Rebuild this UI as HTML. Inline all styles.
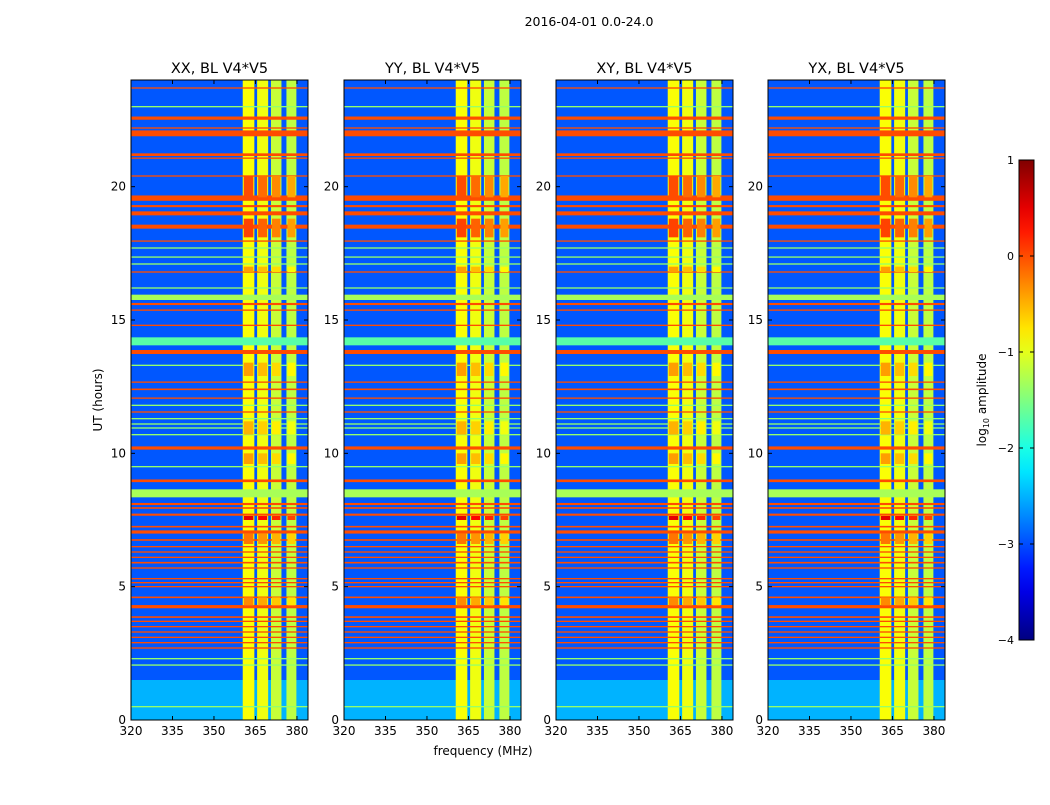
<!DOCTYPE html>
<html><head><meta charset="utf-8"><style>
body{margin:0;background:#fff;font-family:"Liberation Sans",sans-serif}
svg text{font-family:"DejaVu Sans","Liberation Sans",sans-serif;fill:#000}
</style></head><body>
<svg id="fig" width="1050" height="800" xmlns="http://www.w3.org/2000/svg">
<rect width="1050" height="800" fill="#fff"/>
<text x="589" y="26" font-size="12.5" text-anchor="middle">2016-04-01 0.0-24.0</text>
<text transform="translate(102,400) rotate(-90)" font-size="12" text-anchor="middle">UT (hours)</text>
<text x="483" y="755" font-size="12" text-anchor="middle">frequency (MHz)</text>
<text transform="translate(986,400) rotate(-90)" font-size="12" text-anchor="middle">log<tspan font-size="8" dy="3">10</tspan><tspan dy="-3"> amplitude</tspan></text>
<g id="panels"></g>
<g id="cbar"></g>
</svg>
<script>
const panelTitles=["XX, BL V4*V5","YY, BL V4*V5","XY, BL V4*V5","YX, BL V4*V5"];
const xTicks=[320,335,350,365,380];
const yTicks=[0,5,10,15,20];
const cbTicks=[1,0,-1,-2,-3,-4];
const bgLevel=-2.95;
const lowBandHours=[0,1.5];
const lowBandLevel=-2.5;
// band columns (MHz)
const bandStart=[360.4,365.6,370.6,376.2];
const bandEnd=[364.6,369.6,374.4,379.8];
const bandLevel=[-0.9,-0.95,-1.15,-1.2];
// RFI time rows
const rfiHour=[23.7,23.0,22.57,22.2,22.0,21.2,21.07,20.4,19.57,19.27,19.0,18.5,17.96,17.7,17.36,17.1,16.8,16.2,15.85,15.6,15.37,14.8,14.2,13.8,13.3,12.67,12.4,12.07,11.8,11.55,11.3,11.1,10.95,10.7,10.2,9.5,8.97,8.5,8.1,7.95,7.7,7.25,7.05,6.75,6.5,6.3,6.1,5.9,5.7,5.3,5.15,5.0,4.6,4.25,3.86,3.7,3.5,3.3,3.1,2.9,2.7,2.3,2.06,0.5];
const rfiWidth=[0.05,0.05,0.12,0.05,0.22,0.1,0.05,0.05,0.2,0.08,0.15,0.15,0.05,0.05,0.05,0.05,0.05,0.05,0.2,0.08,0.05,0.05,0.3,0.15,0.05,0.05,0.06,0.05,0.05,0.05,0.05,0.05,0.05,0.05,0.12,0.05,0.1,0.3,0.08,0.06,0.08,0.06,0.12,0.06,0.05,0.05,0.05,0.06,0.05,0.05,0.05,0.05,0.06,0.12,0.06,0.05,0.05,0.05,0.05,0.05,0.05,0.05,0.05,0.05];
const rfiLevel=[0,-1.4,0,0,0,0,0,0,0,0,0,0,0,-1.4,-1.4,-1.4,0,-1.4,-1.3,0,0,0,-1.7,0,-1.4,0,0,0,-1.4,0,-1.4,-1.4,-1.4,-1.4,0,-1.4,0,-1.3,0,0,0,0,0,0,0,0,0,0,0,0,0,0,0,0,0,0,0,0,0,0,0,-1.4,-1.4,-1.4];
// hot patches inside band
const patchH0=[19.6,18.1,16.8,12.9,10.7,9.6,7.5,6.6,4.3];
const patchH1=[20.4,18.8,17.0,13.4,11.2,10.0,7.65,7.0,4.6];
const patchLevel=[0.0,0.05,-0.4,-0.4,-0.5,-0.4,0.5,-0.2,-0.3];

function jet(v){const t=Math.max(0,Math.min(1,(v+4)/5));
 const c=x=>Math.round(255*Math.max(0,Math.min(1,1.5-Math.abs(4*t-x))));
 return `rgb(${c(3)},${c(2)},${c(1)})`;}
const NS="http://www.w3.org/2000/svg";
function mk(tag,attrs,parent){const e=document.createElementNS(NS,tag);for(const k in attrs)e.setAttribute(k,attrs[k]);parent.appendChild(e);return e;}
const panelX=[131,344,556,768],PW=177,PT=80,PB=720;
const yS=h=>PB-(h/24)*(PB-PT);
const pg=document.getElementById('panels');
panelX.forEach((x0,p)=>{
 const xS=f=>x0+(f-320)*PW/64;
 const g=mk('g',{},pg);
 
 
 const bg=mk('rect',{x:x0,y:PT,width:PW,height:PB-PT,fill:jet(bgLevel)},g);
 
 
 const lb=mk('rect',{x:x0,y:yS(lowBandHours[1]),width:PW,height:yS(lowBandHours[0])-yS(lowBandHours[1]),fill:jet(lowBandLevel)},g);
 
 
 bandStart.forEach((f,i)=>{
  const r=mk('rect',{x:xS(f),y:PT,width:xS(bandEnd[i])-xS(f),height:PB-PT,fill:jet(bandLevel[i])},g);
  
  
 });
 rfiHour.forEach((h,i)=>{
  const hh=Math.max(1.3,rfiWidth[i]*(PB-PT)/24);
  const r=mk('rect',{x:x0,y:yS(h)-hh/2,width:PW,height:hh,fill:jet(rfiLevel[i])},g);
  
  
 });
 patchH0.forEach((h0,i)=>{
  bandStart.forEach((f,j)=>{
   const r=mk('rect',{x:xS(f)+1,y:yS(patchH1[i]),width:xS(bandEnd[j])-xS(f)-2,height:yS(h0)-yS(patchH1[i]),fill:jet(patchLevel[i]-j*0.15)},g);
   
   
  });
 });
 mk('rect',{x:x0,y:PT,width:PW,height:PB-PT,fill:'none',stroke:'#000','stroke-width':1},g);
 const t=mk('text',{x:x0+PW/2,y:PT-7,'font-size':14.5,'text-anchor':'middle'},g);
 t.textContent=panelTitles[p];
 
 
 xTicks.forEach(v=>{const x=xS(v);
  mk('line',{x1:x,x2:x,y1:PB,y2:PB-4,stroke:'#000'},g);mk('line',{x1:x,x2:x,y1:PT,y2:PT+4,stroke:'#000'},g);
  const l=mk('text',{x:x,y:PB+15,'font-size':12,'text-anchor':'middle'},g);l.textContent=v;
  
  });
 yTicks.forEach(v=>{const y=yS(v);
  mk('line',{x1:x0,x2:x0+4,y1:y,y2:y,stroke:'#000'},g);mk('line',{x1:x0+PW,x2:x0+PW-4,y1:y,y2:y,stroke:'#000'},g);
  const l=mk('text',{x:x0-5,y:y+4,'font-size':12,'text-anchor':'end'},g);l.textContent=v;
  
  });
});
// colorbar
const cb=document.getElementById('cbar');
const CX=1019,CW=15,CT=160,CB=640;
const defs=mk('defs',{},cb);
const grad=mk('linearGradient',{id:'jetg',x1:0,y1:1,x2:0,y2:0},defs);
for(let i=0;i<=20;i++){mk('stop',{offset:i/20,'stop-color':jet(-4+5*i/20)},grad);}
const cr=mk('rect',{x:CX,y:CT,width:CW,height:CB-CT,fill:'url(#jetg)',stroke:'#000'},cb);


cbTicks.forEach(v=>{const y=CB-(v+4)/5*(CB-CT);
 mk('line',{x1:CX,x2:CX+4,y1:y,y2:y,stroke:'#000'},cb);mk('line',{x1:CX+CW,x2:CX+CW-4,y1:y,y2:y,stroke:'#000'},cb);
 const l=mk('text',{x:CX-5,y:y+4,'font-size':11,'text-anchor':'end'},cb);l.textContent=v<0?'\u2212'+(-v):v;
 
 });
</script>
</body></html>
